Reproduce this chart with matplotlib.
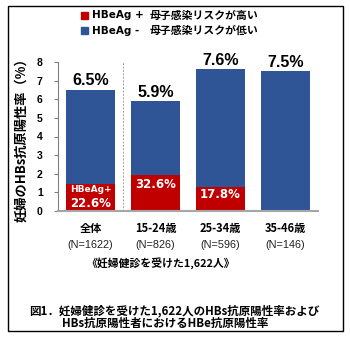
import matplotlib
matplotlib.use("Agg")
import matplotlib.pyplot as plt
from matplotlib.patches import Rectangle

plt.rcParams['font.family'] = ['Noto Sans CJK JP', 'DejaVu Sans']

categories = ["全体", "15-24歳", "25-34歳", "35-46歳"]
n_labels = ["(N=1622)", "(N=826)", "(N=596)", "(N=146)"]
total_rate = [6.5, 5.9, 7.6, 7.5]           # HBs antigen positive rate (%)
hbeag_pos = [1.45, 1.92, 1.30, 0.0]          # red part (HBeAg+)
total_labels = ["6.5%", "5.9%", "7.6%", "7.5%"]
hbeag_pct_labels = ["22.6%", "32.6%", "17.8%", ""]
hbeag_label_y = [0.38, 1.40, 0.91, 0]
yticks = [0, 1, 2, 3, 4, 5, 6, 7, 8]

RED = "#C00000"
BLUE = "#2F5597"

fig = plt.figure(figsize=(3.5, 3.42), dpi=100)
ax = fig.add_axes([58/350, 1-211/342, 260/350, 149/342])

x = list(range(len(categories)))
hbeag_neg = [t - p for t, p in zip(total_rate, hbeag_pos)]
ax.bar(x, hbeag_pos, width=0.74, color=RED, zorder=2)
ax.bar(x, hbeag_neg, width=0.74, bottom=hbeag_pos, color=BLUE, zorder=2)

ax.set_xlim(-0.5, 3.5)
ax.set_ylim(0, 8)
ax.set_yticks(yticks)
ax.set_yticklabels([str(v) for v in yticks], fontsize=7.5, fontweight='bold',
                   family='Liberation Sans')
ax.set_xticks([])
for s in ['top', 'right']:
    ax.spines[s].set_visible(False)
ax.spines['left'].set_color('#808080')
ax.spines['left'].set_linewidth(0.8)
ax.spines['bottom'].set_color('#A6A6A6')
ax.spines['bottom'].set_linewidth(1.5)
ax.tick_params(axis='y', length=3, width=0.8, color='#808080', pad=8)

ax.axvline(0.5, ymin=0, ymax=1, color='#A0A0A0', lw=0.7, ls=(0, (2, 1.5)), zorder=1)

ax.set_ylabel("妊婦のHBs抗原陽性率（%）", fontsize=9.5, fontweight='bold', labelpad=6)

for xi, t, lab in zip(x, total_rate, total_labels):
    ax.text(xi, t + 0.08, lab, ha='center', va='bottom', fontsize=11.5,
            fontweight='bold', family='Liberation Sans', color='black')

for xi, yl, lab in zip(x, hbeag_label_y, hbeag_pct_labels):
    if lab:
        ax.text(xi, yl, lab, ha='center', va='center', fontsize=8.5,
                fontweight='bold', family='DejaVu Sans', color='white')
ax.text(0, 1.18, "HBeAg+", ha='center', va='center', fontsize=6.5,
        fontweight='bold', family='DejaVu Sans', color='white')

for xi, cat, nl in zip(x, categories, n_labels):
    ax.annotate(cat, xy=(xi, 0), xycoords=('data', 'axes fraction'),
                xytext=(0, -12.5), textcoords='offset points',
                ha='center', va='center', fontsize=8, fontweight='bold')
    ax.annotate(nl, xy=(xi, 0), xycoords=('data', 'axes fraction'),
                xytext=(0, -24.5), textcoords='offset points',
                ha='center', va='center', fontsize=7.8, color='#222222',
                family='Liberation Sans')

# legend
fig.patches.append(Rectangle((81/350, 1-19/342), 7/350, 7/342,
                             transform=fig.transFigure, color=RED))
fig.patches.append(Rectangle((81/350, 1-34/342), 7/350, 7/342,
                             transform=fig.transFigure, color=BLUE))
fig.text(92/350, 1-15.5/342, "HBeAg +", ha='left', va='center', fontsize=7.5,
         fontweight='bold', family='DejaVu Sans')
fig.text(92/350, 1-30.5/342, "HBeAg -", ha='left', va='center', fontsize=7.5,
         fontweight='bold', family='DejaVu Sans')
fig.text(150/350, 1-15.5/342, "母子感染リスクが高い", ha='left', va='center',
         fontsize=7.8, fontweight='bold')
fig.text(150/350, 1-30.5/342, "母子感染リスクが低い", ha='left', va='center',
         fontsize=7.8, fontweight='bold')

fig.text(161/350, 1-263/342, "《妊婦健診を受けた1,622人》", ha='center', va='center',
         fontsize=7.8, fontweight='bold')
fig.text(174/350, 1-311/342, "図1．妊婦健診を受けた1,622人のHBs抗原陽性率および",
         ha='center', va='center', fontsize=8.3, fontweight='bold')
fig.text(165/350, 1-323/342, "HBs抗原陽性者におけるHBe抗原陽性率",
         ha='center', va='center', fontsize=8.3, fontweight='bold')

# outer frame
fig.patches.append(Rectangle((8/350, 1-331/342), 335/350, 325/342,
                             transform=fig.transFigure, fill=False,
                             edgecolor='black', lw=1.0))

fig.savefig("out.png", dpi=100)
